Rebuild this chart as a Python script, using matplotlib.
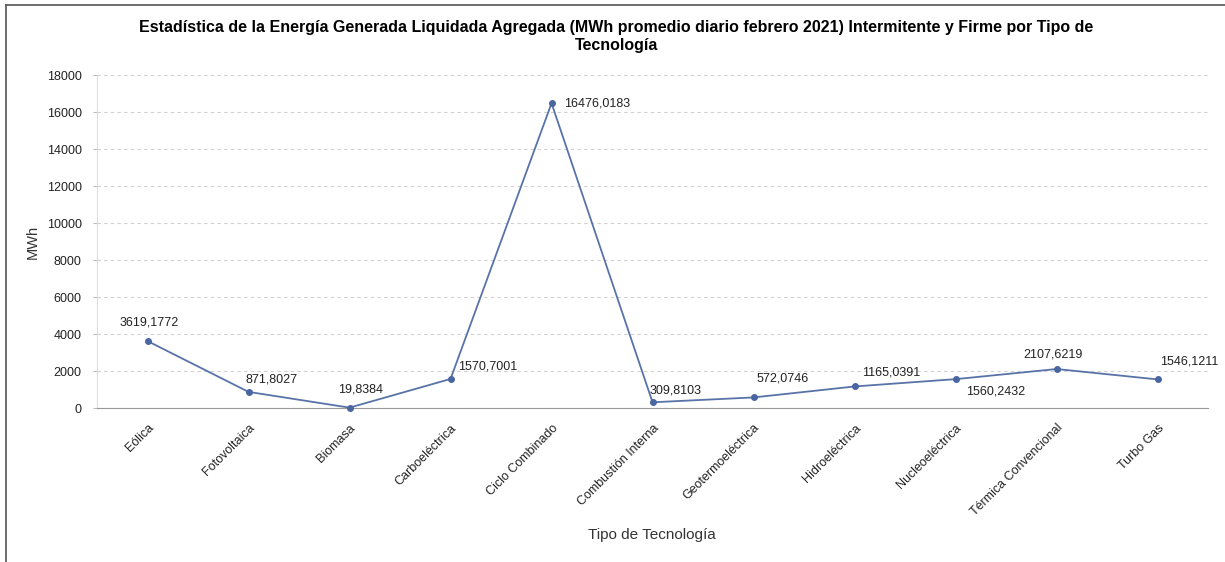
import matplotlib
matplotlib.use("Agg")
import matplotlib.pyplot as plt
from matplotlib.lines import Line2D

plt.rcParams['font.family'] = ['Liberation Sans', 'DejaVu Sans']

# datos
tecnologias = ['Eólica', 'Fotovoltaica', 'Biomasa', 'Carboeléctrica', 'Ciclo Combinado',
               'Combustión Interna', 'Geotermoeléctrica', 'Hidroeléctrica',
               'Nucleoeléctrica', 'Térmica Convencional', 'Turbo Gas']
mwh = [3619.1772, 871.8027, 19.8384, 1570.7001, 16476.0183, 309.8103,
       572.0746, 1165.0391, 1560.2432, 2107.6219, 1546.1211]
etiquetas = ['3619,1772', '871,8027', '19,8384', '1570,7001', '16476,0183', '309,8103',
             '572,0746', '1165,0391', '1560,2432', '2107,6219', '1546,1211']
# desplazamiento de cada etiqueta respecto al punto (pixeles)
offsets = [(2, 19), (23, 12), (11, 18), (37, 12), (46, 0), (23, 12),
           (29, 19), (37, 14), (40, -12), (-4, 15), (32, 18)]
yticks = list(range(0, 18001, 2000))

fig = plt.figure(figsize=(12.25, 5.62), dpi=100)
ax = fig.add_axes([0.0792, 0.274, 0.907, 0.5925])

x = list(range(len(tecnologias)))
ax.plot(x, mwh, color='#5873a8', linewidth=1.3, marker='o', markersize=4,
        markerfacecolor='#4a66a0', markeredgecolor='#4a66a0', zorder=3, clip_on=False)

for xi, yi, txt, off in zip(x, mwh, etiquetas, offsets):
    ax.annotate(txt, (xi, yi), xytext=off, textcoords='offset pixels',
                ha='center', va='center', fontsize=9, color='#222222')

ax.set_xlim(-0.5, 10.5)
ax.set_ylim(0, 18000)
ax.set_yticks(yticks)
ax.set_yticklabels([str(v) for v in yticks], fontsize=9, color='#222222')
ax.set_xticks(x)
ax.set_xticklabels(tecnologias, rotation=45, ha='right', rotation_mode='anchor',
                   fontsize=9, color='#222222')
ax.tick_params(axis='y', length=3, width=0.8, color='#bbbbbb', pad=8)
ax.tick_params(axis='x', length=0, pad=10)

ax.grid(True, axis='y', linestyle=(0, (3, 3)), color='#d0d0d0', linewidth=0.8)
ax.set_axisbelow(True)
for s in ['top', 'right']:
    ax.spines[s].set_visible(False)
ax.spines['left'].set_color('#dddddd')
ax.spines['bottom'].set_color('#999999')

# ejes y titulo
fig.text(0.027, 0.57, 'MWh', rotation=90, ha='center', va='center',
         fontsize=10.5, color='#333333')
fig.text(0.532, 0.048, 'Tipo de Tecnología', ha='center', va='center',
         fontsize=11, color='#333333')
fig.text(0.503, 0.935,
         'Estadística de la Energía Generada Liquidada Agregada (MWh promedio diario febrero 2021) Intermitente y Firme por Tipo de\nTecnología',
         ha='center', va='center', fontsize=11.5, fontweight='bold', linespacing=1.2)

# marco de la figura
fig.add_artist(Line2D([0.005, 1.0], [0.991, 0.991], color='#555555', linewidth=1.2,
                      transform=fig.transFigure))
fig.add_artist(Line2D([0.005, 0.005], [0.0, 0.991], color='#555555', linewidth=1.2,
                      transform=fig.transFigure))

fig.savefig('out.png', dpi=100)
